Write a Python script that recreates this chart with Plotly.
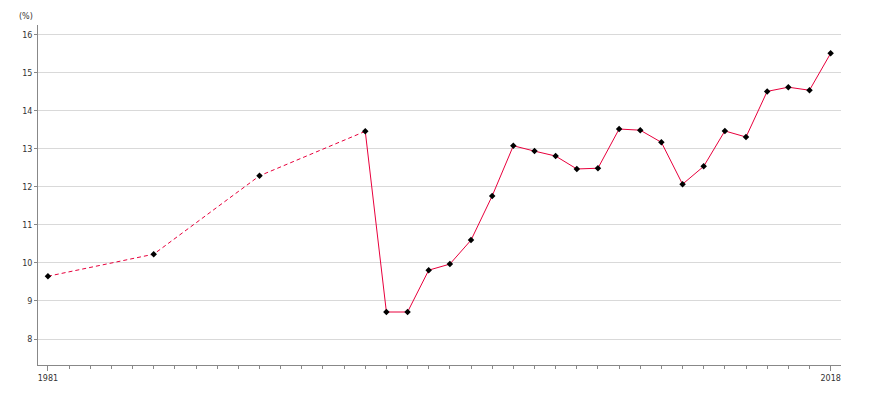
import plotly.graph_objects as go

years_early = [1981, 1986, 1991, 1996]
values_early = [9.65, 10.23, 12.29, 13.46]
years_annual = [1996, 1997, 1998, 1999, 2000, 2001, 2002, 2003, 2004, 2005, 2006, 2007,
                2008, 2009, 2010, 2011, 2012, 2013, 2014, 2015, 2016, 2017, 2018]
values_annual = [13.46, 8.71, 8.71, 9.81, 9.97, 10.6, 11.76, 13.08, 12.94, 12.81, 12.47, 12.49,
                 13.52, 13.49, 13.17, 12.07, 12.54, 13.47, 13.31, 14.51, 14.62, 14.54, 15.51]
y_ticks = [8, 9, 10, 11, 12, 13, 14, 15, 16]
x_ticks = [1981, 2018]

line_color = "#e8003c"
fig = go.Figure()
fig.add_trace(go.Scatter(x=years_early, y=values_early, mode="lines",
                         line=dict(color=line_color, width=1, dash="4px,3px"),
                         hoverinfo="skip", showlegend=False))
fig.add_trace(go.Scatter(x=years_annual, y=values_annual, mode="lines",
                         line=dict(color=line_color, width=1),
                         hoverinfo="skip", showlegend=False))
all_x = years_early + years_annual[1:]
all_y = values_early + values_annual[1:]
fig.add_trace(go.Scatter(x=all_x, y=all_y, mode="markers",
                         marker=dict(symbol="diamond", size=5, color="black"),
                         showlegend=False))

fig.update_layout(
    width=870, height=400,
    margin=dict(l=30, r=37, t=17, b=43),
    plot_bgcolor="white", paper_bgcolor="white",
    font=dict(family="DejaVu Sans", size=8, color="#333333"),
    xaxis=dict(range=[1980.53, 2018.49], tickvals=x_ticks, ticktext=[str(v) for v in x_ticks],
               showgrid=False, zeroline=False, showline=True, linecolor="#888888", linewidth=1,
               ticks="outside", ticklen=5, tickcolor="#888888",
               minor=dict(tick0=1981, dtick=1, ticks="outside", ticklen=3, tickcolor="#888888")),
    yaxis=dict(range=[7.317, 16.255], tickvals=y_ticks, showgrid=True, gridcolor="#d9d9d9",
               zeroline=False, showline=True, linecolor="#888888", linewidth=1,
               ticks="outside", ticklen=3, tickcolor="#888888"),
    annotations=[dict(text="(%)", x=0, xref="paper", xanchor="right", xshift=-3,
                      y=1, yref="paper", yanchor="bottom", yshift=2, showarrow=False,
                      font=dict(size=8, color="#333333"))],
)
fig.write_html("out.html")
